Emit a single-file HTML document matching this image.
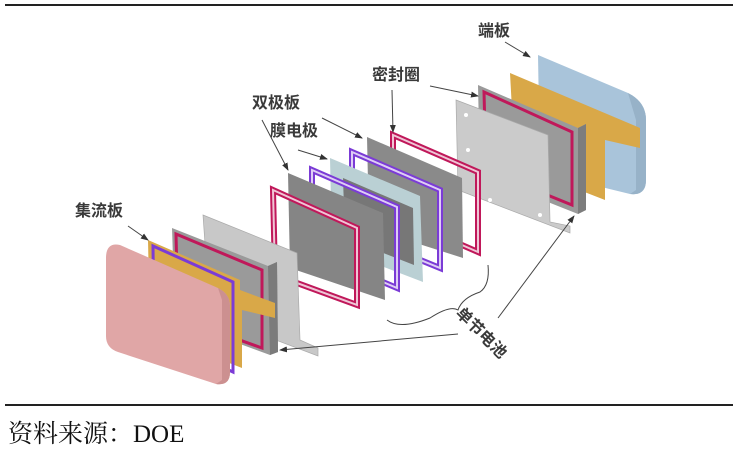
<!DOCTYPE html>
<html><head><meta charset="utf-8"><style>
html,body{margin:0;padding:0;background:#fff;width:744px;height:450px;overflow:hidden}
svg{display:block}
.t{font-family:"Liberation Sans","Noto Sans CJK SC",sans-serif;font-size:16px;fill:#3a3a3a;font-weight:bold}
.r{fill:none;stroke:#c0185a;stroke-width:6}
.p{fill:none;stroke:#7b3bd6;stroke-width:6}
.w{fill:none;stroke:#fff;stroke-width:2;opacity:.75}
</style></head><body>
<svg width="744" height="450" viewBox="0 0 744 450">
<defs><marker id="a" markerWidth="8" markerHeight="8" refX="7" refY="4" orient="auto"><path d="M0,1 L8,4 L0,7z" fill="#333"/></marker></defs>
<line x1="5" y1="5" x2="733" y2="5" stroke="#222" stroke-width="2"/>
<line x1="5" y1="405" x2="733" y2="405" stroke="#222" stroke-width="2"/>
<text x="8" y="442" style="font-family:'Liberation Serif','Noto Serif CJK SC',serif;font-size:25px;fill:#111">资料来源：DOE</text>

<path d="M538,55 L628,93 Q646,102 646,120 L646,180 Q646,196 630,194 L540,172 Z" fill="#a9c4da"/>
<path d="M628,93 Q646,102 646,120 L646,180 Q646,196 630,194 L636,190 L636,120 Z" fill="#97b2c8"/>
<path d="M510,73 L640,128 L640,148 L605,140 L605,200 L515,165 Z" fill="#d9a848"/>
<path d="M478,85 L578,128 L586,124 L586,210 L578,214 L480,175 Z" fill="#9a9a9a"/>
<path d="M578,128 L586,124 L586,210 L578,214Z" fill="#7d7d7d"/>
<path d="M484,92 L572,132 L572,205 L486,170 Z" class="r" style="stroke-width:3"/>
<path d="M456,100 L548,135 L550,222 L570,226 L570,233 L458,190 Z" fill="#cbcbcb" stroke="#aaa" stroke-width="0.7"/>
<g fill="#fff"><circle cx="466" cy="115" r="2"/><circle cx="468" cy="150" r="2"/><circle cx="490" cy="200" r="2"/><circle cx="540" cy="215" r="2"/></g>

<path d="M393,135 L478,172 L478,252 L393,215 Z" class="r"/>
<path d="M393,135 L478,172 L478,252 L393,215 Z" class="w"/>
<path d="M367,137 L462,178 L463,258 L369,228 Z" fill="#8a8a8a"/>
<path d="M352,152 L440,190 L440,268 L352,232 Z" class="p"/>
<path d="M352,152 L440,190 L440,268 L352,232 Z" class="w"/>
<path d="M330,158 L420,196 L423,282 L332,247 Z" fill="#bad0d4"/>
<path d="M343,178 L413,208 L414,265 L345,238 Z" fill="#777"/>
<path d="M312,170 L397,207 L397,288 L312,252 Z" class="p"/>
<path d="M312,170 L397,207 L397,288 L312,252 Z" class="w"/>
<path d="M288,173 L383,213 L385,300 L290,268 Z" fill="#858585"/>
<path d="M273,190 L357,228 L357,305 L275,275 Z" class="r"/>
<path d="M273,190 L357,228 L357,305 L275,275 Z" class="w"/>

<path d="M203,215 L297,253 L300,340 L318,348 L318,356 L210,315 Z" fill="#c8c8c8" stroke="#aaa" stroke-width="0.7"/>
<path d="M172,228 L268,266 L277,262 L278,352 L270,355 L175,320 Z" fill="#9a9a9a"/>
<path d="M268,266 L277,262 L278,352 L270,355Z" fill="#7b7b7b"/>
<path d="M176,234 L262,270 L262,348 L178,318 Z" class="r" style="stroke-width:3"/>
<path d="M148,240 L240,280 L240,290 L275,303 L275,318 L242,310 L242,368 L150,332 Z" fill="#d9a848"/>
<path d="M153,246 L233,282 L233,372 L154,336 Z" class="p" style="stroke-width:3"/>
<path d="M120,245 L218,288 Q230,294 230,306 L230,372 Q230,386 216,384 L118,352 Q106,348 106,336 L106,258 Q106,242 120,245Z" fill="#e0a6a6"/>
<path d="M218,288 Q230,294 230,306 L230,372 Q230,386 216,384 L222,380 L222,300 Z" fill="#cc9090"/>

<text class="t" x="478" y="36">端板</text>
<text class="t" x="372" y="80">密封圈</text>
<text class="t" x="252" y="108">双极板</text>
<text class="t" x="270" y="136">膜电极</text>
<text class="t" x="75" y="216">集流板</text>
<text class="t" transform="translate(455,314) rotate(45)">单节电池</text>

<g stroke="#444" stroke-width="1" fill="none" marker-end="url(#a)">
<line x1="505" y1="42" x2="530" y2="57"/>
<line x1="430" y1="86" x2="478" y2="96"/>
<line x1="392" y1="90" x2="393" y2="132"/>
<line x1="262" y1="120" x2="288" y2="170"/>
<line x1="322" y1="118" x2="362" y2="138"/>
<line x1="298" y1="150" x2="327" y2="159"/>
<line x1="128" y1="226" x2="148" y2="240"/>
<line x1="498" y1="318" x2="574" y2="216"/>
<line x1="458" y1="334" x2="280" y2="350"/>
</g>
<path d="M387,320 Q400,330 430,318 Q450,305 458,310 Q462,298 480,292 Q490,285 488,265" fill="none" stroke="#444" stroke-width="1"/>
</svg>
</body></html>
